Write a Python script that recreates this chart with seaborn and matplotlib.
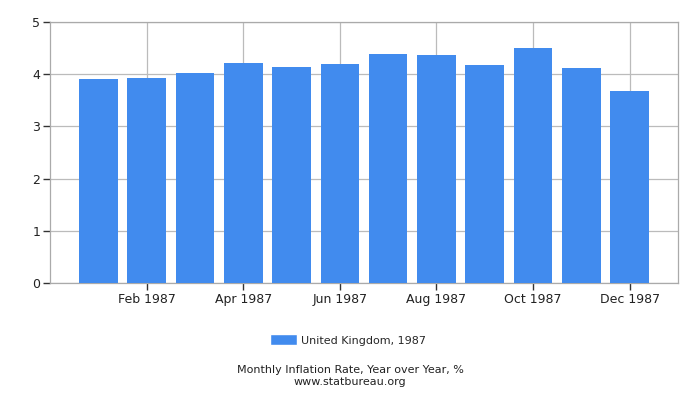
import numpy as np
import pandas as pd
import matplotlib
matplotlib.use("Agg")
import matplotlib.pyplot as plt
from matplotlib.patches import Patch
import seaborn as sns

# dados
meses = ["Jan", "Feb", "Mar", "Apr", "May", "Jun",
         "Jul", "Aug", "Sep", "Oct", "Nov", "Dec"]
inflacao = [3.9, 3.93, 4.02, 4.22, 4.14, 4.2, 4.39, 4.37, 4.18, 4.5, 4.12, 3.68]
rotulos_x = ["Feb 1987", "Apr 1987", "Jun 1987", "Aug 1987", "Oct 1987", "Dec 1987"]
serie = "United Kingdom, 1987"

cor_barra = "#418bee"
cor_grade = "#bbbbbb"

df = pd.DataFrame({"mes": meses, "valor": inflacao})

sns.set_style("white", {"xtick.bottom": True, "ytick.left": True})
plt.rcParams["font.family"] = ["DejaVu Sans"]
plt.rcParams["xtick.major.size"] = 5
plt.rcParams["ytick.major.size"] = 5

fig = plt.figure(figsize=(7, 4), dpi=100)
ax = fig.add_axes([50 / 700, 1 - 283 / 400, 628 / 700, 261 / 400])

sns.barplot(data=df, x="mes", y="valor", color=cor_barra, saturation=1,
            width=0.8, linewidth=0, ax=ax, zorder=3)

ax.set_xlim(-1, 12)
ax.set_ylim(0, 5)
ax.set_xticks([1, 3, 5, 7, 9, 11])
ax.set_xticklabels(rotulos_x)
ax.set_yticks(range(6))
ax.set_xlabel("")
ax.set_ylabel("")

ax.grid(True, color=cor_grade, linewidth=0.9, zorder=0)
ax.set_axisbelow(True)
for lado in ["top", "right", "bottom", "left"]:
    ax.spines[lado].set_color("#aaaaaa")
    ax.spines[lado].set_linewidth(0.9)
ax.tick_params(axis="both", bottom=True, left=True, direction="out",
               length=5, width=1, color="#333333",
               labelsize=9, labelcolor="#222222", pad=2)

fig.legend(handles=[Patch(facecolor=cor_barra, label=serie)],
           loc="center", bbox_to_anchor=(0.497, 1 - 340 / 400),
           frameon=False, fontsize=8, handlelength=2.4, handleheight=1.1,
           handletextpad=0.4)

fig.text(0.5, 1 - 370 / 400, "Monthly Inflation Rate, Year over Year, %",
         ha="center", va="center", fontsize=8, color="#222222")
fig.text(0.5, 1 - 382 / 400, "www.statbureau.org",
         ha="center", va="center", fontsize=8, color="#222222")

fig.savefig("out.png", dpi=100)
